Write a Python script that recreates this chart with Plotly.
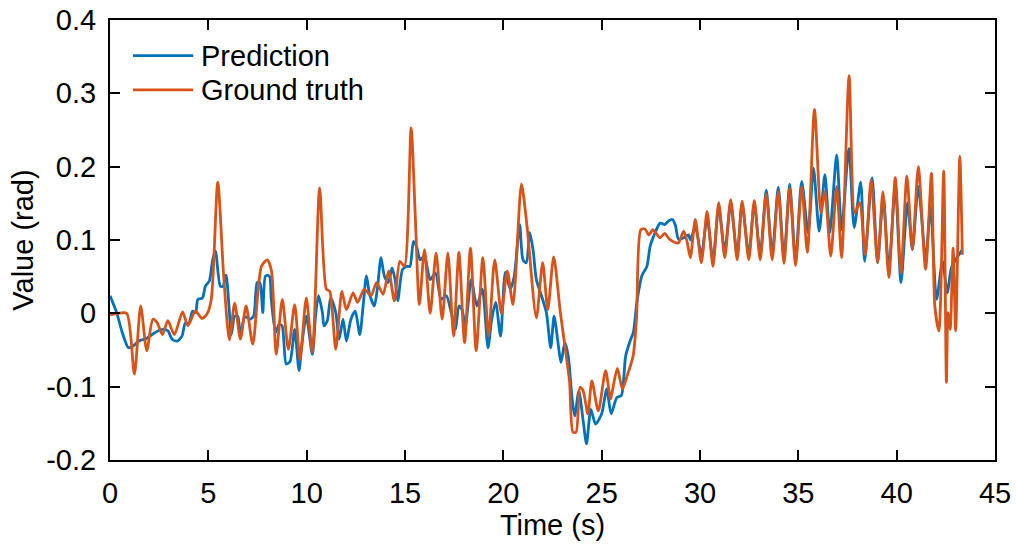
import plotly.graph_objects as go

# ---------------- data ----------------
gt_time = [0, 0.4, 0.85, 1.24, 1.56, 1.87, 2.18, 2.38, 2.67, 2.94, 3.27, 3.69, 3.96, 4.34, 4.68, 4.93,
           5.15, 5.48, 5.78, 6.07, 6.34, 6.63, 6.92, 7.26, 7.70, 8.0, 8.21, 8.45, 8.76, 9.07, 9.39,
           9.66, 9.98, 10.29, 10.66, 11.0, 11.17, 11.48, 11.79, 12.02, 12.36, 12.59, 12.93, 13.27,
           13.55, 13.89, 14.17, 14.46, 14.74, 14.97, 15.31, 15.53, 15.73, 15.99, 16.28, 16.58, 16.89,
           17.18, 17.47, 17.74, 18.03, 18.33, 18.62, 18.96, 19.25, 19.56, 19.90, 20.20, 20.49, 20.92,
           21.2, 21.68, 22.0, 22.26, 22.56, 22.9, 23.2, 23.37, 23.54, 23.7, 23.9, 24.05, 24.3, 24.5,
           24.83, 25.2, 25.45, 25.55, 25.8, 26.05, 26.3, 26.6, 26.77, 26.99, 27.2, 27.4, 27.6, 27.97,
           28.2, 28.45, 28.7, 28.9, 29.17, 29.34, 29.51, 29.76, 30.07, 30.36, 30.66, 30.95, 31.26,
           31.56, 31.89, 32.14, 32.48, 32.76, 33.06, 33.37, 33.67, 33.98, 34.27, 34.56, 34.86, 35.17,
           35.46, 35.82, 36.15, 36.35, 36.65, 36.95, 37.2, 37.58, 37.87, 38.12, 38.4, 38.7, 39.03,
           39.3, 39.6, 39.93, 40.22, 40.52, 40.8, 41.1, 41.47, 41.77, 41.94, 42.15, 42.39, 42.53,
           42.61, 42.72, 42.87, 43.0, 43.21, 43.34]
gt_value = [-0.002, 0.0, 0.0, -0.083, 0.010, -0.051, -0.008, -0.012, -0.029, -0.010, -0.029, 0.002,
            -0.017, 0.003, -0.007, -0.001, 0.019, 0.179, 0.051, -0.036, 0.014, -0.035, 0.010, -0.042,
            0.064, 0.073, 0.058, -0.056, 0.019, -0.049, 0.012, -0.063, 0.021, -0.053, 0.171, 0.033,
            0.030, -0.049, 0.030, 0.005, 0.028, 0.015, 0.033, 0.024, 0.042, 0.026, 0.058, 0.017, 0.071,
            0.064, 0.253, 0.128, 0.012, 0.087, 0.0, 0.082, -0.008, 0.082, -0.031, 0.083, -0.040, 0.089,
            -0.051, 0.076, -0.031, 0.073, 0.0, 0.058, 0.012, 0.176, 0.12, -0.006, 0.069, 0.005, 0.077,
            0.001, -0.058, -0.094, -0.162, -0.162, -0.101, -0.105, -0.137, -0.092, -0.133, -0.078,
            -0.117, -0.105, -0.075, -0.103, -0.085, -0.058, -0.008, 0.114, 0.115, 0.107, 0.114, 0.103,
            0.109, 0.101, 0.097, 0.096, 0.112, 0.098, 0.076, 0.128, 0.069, 0.139, 0.064, 0.151, 0.076,
            0.155, 0.073, 0.153, 0.073, 0.154, 0.073, 0.163, 0.073, 0.166, 0.068, 0.171, 0.065, 0.173,
            0.083, 0.278, 0.137, 0.166, 0.078, 0.173, 0.076, 0.324, 0.137, 0.151, 0.080, 0.182, 0.069,
            0.166, 0.049, 0.185, 0.055, 0.187, 0.087, 0.200, 0.060, 0.191, 0.010, -0.024, 0.194, -0.094,
            0.001, -0.022, 0.089, -0.024, 0.214, 0.080]

pred_time = [0, 0.34, 0.6, 0.94, 1.2, 1.45, 1.87, 2.3, 2.72, 2.95, 3.15, 3.4, 3.66, 3.83, 4.0, 4.2,
             4.35, 4.47, 4.7, 4.85, 5.05, 5.22, 5.36, 5.61, 5.75, 5.9, 6.05, 6.17, 6.34, 6.5, 6.63,
             6.85, 7.09, 7.3, 7.48, 7.62, 7.77, 7.91, 8.1, 8.2, 8.42, 8.6, 8.75, 8.96, 9.15, 9.39,
             9.61, 9.75, 9.98, 10.29, 10.45, 10.6, 10.8, 10.88, 11.05, 11.22, 11.48, 11.65, 11.85,
             12.02, 12.25, 12.47, 12.7, 12.87, 13.04, 13.2, 13.44, 13.6, 13.78, 13.95, 14.15, 14.34,
             14.5, 14.63, 14.88, 15.1, 15.25, 15.43, 15.6, 15.77, 15.99, 16.28, 16.55, 16.84, 17.1,
             17.35, 17.57, 17.74, 17.9, 18.07, 18.37, 18.65, 18.93, 19.22, 19.4, 19.61, 19.86, 20.1,
             20.35, 20.55, 20.83, 21.0, 21.17, 21.34, 21.51, 21.68, 21.94, 22.19, 22.41, 22.58, 22.78,
             22.93, 23.13, 23.3, 23.5, 23.63, 23.84, 24.07, 24.23, 24.45, 24.69, 25.0, 25.26, 25.48,
             25.77, 26.0, 26.22, 26.44, 26.61, 26.79, 27.04, 27.3, 27.47, 27.72, 27.97, 28.2, 28.4,
             28.6, 28.75, 28.91, 29.17, 29.42, 29.51, 29.76, 30.07, 30.36, 30.66, 30.95, 31.26, 31.56,
             31.89, 32.14, 32.48, 32.76, 33.06, 33.37, 33.67, 33.98, 34.27, 34.56, 34.86, 35.17, 35.5,
             35.77, 36.06, 36.35, 36.6, 36.95, 37.2, 37.57, 37.84, 38.17, 38.37, 38.75, 39.03, 39.32,
             39.6, 39.93, 40.22, 40.55, 40.8, 41.1, 41.48, 41.72, 42.03, 42.33, 42.57, 42.78, 43.0,
             43.34]
pred_value = [0.024, 0.001, -0.024, -0.047, -0.044, -0.038, -0.034, -0.026, -0.022, -0.024, -0.035,
              -0.038, -0.031, -0.013, -0.014, 0.003, 0.001, 0.019, 0.021, 0.037, 0.044, 0.073, 0.085,
              0.037, 0.037, 0.052, 0.010, -0.029, -0.004, -0.004, -0.033, -0.004, -0.008, -0.004,
              0.042, 0.042, 0.001, 0.051, 0.051, 0.019, -0.026, -0.015, -0.017, -0.069, -0.066, -0.022,
              -0.078, -0.044, -0.004, -0.056, -0.004, 0.024, 0.001, -0.017, -0.010, 0.021, 0.001,
              -0.035, -0.008, -0.038, -0.008, 0.003, -0.029, 0.010, 0.051, 0.026, 0.010, 0.035, 0.076,
              0.051, 0.042, 0.062, 0.045, 0.017, 0.060, 0.064, 0.064, 0.098, 0.090, 0.073, 0.078, 0.046,
              0.055, 0.019, 0.024, 0.001, -0.022, 0.010, 0.005, -0.017, 0.046, 0.010, 0.033, -0.047,
              -0.010, 0.015, -0.031, 0.056, 0.033, 0.05, 0.121, 0.073, 0.069, 0.110, 0.087, 0.046, 0.024,
              0.001, -0.047, -0.004, -0.040, -0.067, -0.040, -0.058, -0.117, -0.140, -0.106, -0.149,
              -0.178, -0.131, -0.151, -0.137, -0.103, -0.137, -0.115, -0.112, -0.058, -0.038, -0.026,
              0.015, 0.051, 0.064, 0.092, 0.110, 0.123, 0.121, 0.126, 0.128, 0.12, 0.101, 0.103, 0.107,
              0.10, 0.118, 0.080, 0.13, 0.072, 0.145, 0.085, 0.150, 0.08, 0.150, 0.08, 0.150, 0.08, 0.168,
              0.08, 0.172, 0.075, 0.176, 0.072, 0.180, 0.110, 0.198, 0.112, 0.189, 0.110, 0.216, 0.114,
              0.225, 0.117, 0.179, 0.071, 0.185, 0.069, 0.160, 0.060, 0.173, 0.042, 0.151, 0.087, 0.173,
              0.073, 0.146, 0.019, 0.071, 0.028, 0.062, 0.073, 0.087]

x_ticks = [0, 5, 10, 15, 20, 25, 30, 35, 40, 45]
y_ticks = [-0.2, -0.1, 0, 0.1, 0.2, 0.3, 0.4]
y_tick_labels = ["-0.2", "-0.1", "0", "0.1", "0.2", "0.3", "0.4"]
series_names = ["Prediction", "Ground truth"]

BLUE = "#0072BD"
ORANGE = "#D95319"
FONT = "Liberation Sans, Arial, sans-serif"
FS = 29
LW = 2.8

fig = go.Figure()
fig.add_trace(go.Scatter(x=pred_time, y=pred_value, mode="lines", name=series_names[0],
                         line=dict(color=BLUE, width=LW, shape="spline", smoothing=0.7),
                         showlegend=False))
fig.add_trace(go.Scatter(x=gt_time, y=gt_value, mode="lines", name=series_names[1],
                         line=dict(color=ORANGE, width=LW, shape="spline", smoothing=0.7),
                         showlegend=False))

axis_common = dict(showgrid=False, zeroline=False, showline=True, linecolor="black", linewidth=2,
                   mirror="ticks", ticks="inside", ticklen=10, tickwidth=2, tickcolor="black",
                   automargin=False,
                   tickfont=dict(family=FONT, size=FS, color="black"))

fig.update_xaxes(range=[0, 45], tickvals=x_ticks, ticklabelstandoff=6,
                 title=dict(text="Time (s)", font=dict(family=FONT, size=FS, color="black"), standoff=2),
                 **axis_common)
fig.update_yaxes(range=[-0.2, 0.4], tickvals=y_ticks, ticktext=y_tick_labels, ticklabelstandoff=6,
                 title=dict(text="Value (rad)", font=dict(family=FONT, size=FS, color="black"), standoff=4),
                 **axis_common)

# legend drawn manually (line sample + label), in paper coordinates
legend_rows = [(0.919, BLUE, series_names[0]), (0.841, ORANGE, series_names[1])]
for yy, col, label in legend_rows:
    fig.add_shape(type="line", xref="paper", yref="paper", x0=0.026, x1=0.094, y0=yy, y1=yy,
                  line=dict(color=col, width=LW))
    fig.add_annotation(xref="paper", yref="paper", x=0.100, y=yy, text=label, showarrow=False,
                       xanchor="left", yanchor="middle",
                       font=dict(family=FONT, size=FS, color="black"))

fig.update_layout(
    width=1016, height=546,
    margin=dict(l=110, r=21, t=20, b=86),
    paper_bgcolor="white", plot_bgcolor="white",
    font=dict(family=FONT, size=FS, color="black"),
    showlegend=False,
)

fig.write_html("out.html", config={"displayModeBar": False},
               post_script="document.body.style.margin='0';")
